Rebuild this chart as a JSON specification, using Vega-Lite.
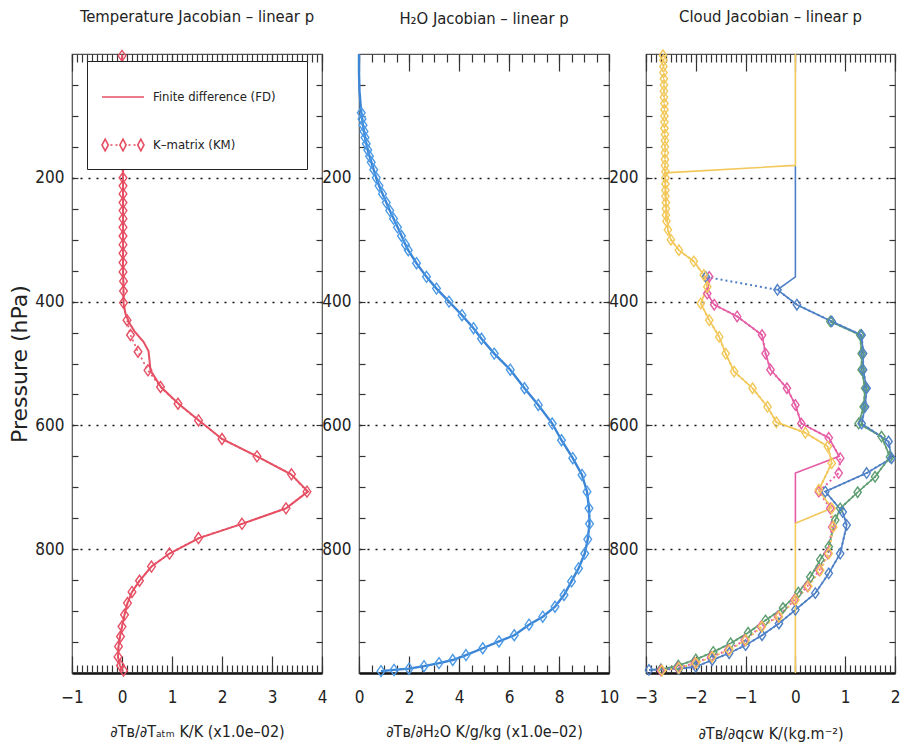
{
  "$schema": "https://vega.github.io/schema/vega-lite/v6.json",
  "background": "white",
  "padding": {"left": 8, "top": 8, "right": 8, "bottom": 4},
  "spacing": 37,
  "bounds": "flush",
  "config": {
    "font": "Liberation Sans Narrow, DejaVu Sans Condensed, Liberation Sans",
    "view": {"stroke": "#555", "strokeWidth": 1.2},
    "axis": {"labelFont": "Liberation Sans Narrow, DejaVu Sans Condensed, Liberation Sans", "labelFontSize": 17, "labelColor": "#222", "titleFont": "Liberation Sans Narrow, DejaVu Sans Condensed, Liberation Sans", "titleFontSize": 16, "titleFontWeight": "normal", "titleColor": "#222", "tickColor": "#333", "tickWidth": 1.2, "domain": false, "labelFlush": false, "labelOverlap": false, "grid": false},
    "title": {"font": "Liberation Sans Narrow, DejaVu Sans Condensed, Liberation Sans", "fontSize": 16.5, "fontWeight": "normal", "color": "#222", "offset": 22}
  },
  "datasets": {
    "leg": [{"m": "Finite difference (FD)", "v": 0, "p": 0}, {"m": "K–matrix (KM)", "v": 0, "p": 0}],
    "temp": [
      {"m":"FD","p":1,"v":0.0},{"m":"FD","p":50,"v":0.0},{"m":"FD","p":100,"v":0.01},{"m":"FD","p":150,"v":0.01},{"m":"FD","p":200,"v":0.02},{"m":"FD","p":250,"v":0.02},{"m":"FD","p":300,"v":0.02},{"m":"FD","p":350,"v":0.02},{"m":"FD","p":380,"v":0.03},{"m":"FD","p":402,"v":0.03},{"m":"FD","p":420,"v":0.07},{"m":"FD","p":435,"v":0.15},{"m":"FD","p":448,"v":0.25},{"m":"FD","p":465,"v":0.43},{"m":"FD","p":480,"v":0.53},{"m":"FD","p":495,"v":0.55},{"m":"FD","p":511,"v":0.57},{"m":"FD","p":538,"v":0.78},{"m":"FD","p":565,"v":1.13},{"m":"FD","p":592,"v":1.54},{"m":"FD","p":622,"v":2.0},{"m":"FD","p":650,"v":2.7},{"m":"FD","p":679,"v":3.38},{"m":"FD","p":707,"v":3.72},{"m":"FD","p":734,"v":3.28},{"m":"FD","p":759,"v":2.4},{"m":"FD","p":782,"v":1.54},{"m":"FD","p":807,"v":0.95},{"m":"FD","p":828,"v":0.59},{"m":"FD","p":851,"v":0.35},{"m":"FD","p":869,"v":0.2},{"m":"FD","p":887,"v":0.11},{"m":"FD","p":906,"v":0.05},{"m":"FD","p":925,"v":0.0},{"m":"FD","p":941,"v":-0.04},{"m":"FD","p":957,"v":-0.07},{"m":"FD","p":974,"v":-0.08},{"m":"FD","p":988,"v":-0.04},{"m":"FD","p":998,"v":0.02},
      {"m":"KM","p":3,"v":0.0},{"m":"KM","p":20,"v":0.0},{"m":"KM","p":40,"v":0.0},{"m":"KM","p":60,"v":0.01},{"m":"KM","p":80,"v":0.01},{"m":"KM","p":100,"v":0.01},{"m":"KM","p":120,"v":0.01},{"m":"KM","p":140,"v":0.01},{"m":"KM","p":160,"v":0.01},{"m":"KM","p":180,"v":0.02},{"m":"KM","p":200,"v":0.02},{"m":"KM","p":213,"v":0.02},{"m":"KM","p":226,"v":0.02},{"m":"KM","p":240,"v":0.02},{"m":"KM","p":253,"v":0.02},{"m":"KM","p":266,"v":0.02},{"m":"KM","p":280,"v":0.02},{"m":"KM","p":294,"v":0.02},{"m":"KM","p":308,"v":0.02},{"m":"KM","p":322,"v":0.02},{"m":"KM","p":337,"v":0.02},{"m":"KM","p":352,"v":0.02},{"m":"KM","p":367,"v":0.03},{"m":"KM","p":383,"v":0.03},{"m":"KM","p":402,"v":0.03},{"m":"KM","p":430,"v":0.1},{"m":"KM","p":454,"v":0.17},{"m":"KM","p":481,"v":0.32},{"m":"KM","p":511,"v":0.52},{"m":"KM","p":538,"v":0.77},{"m":"KM","p":565,"v":1.12},{"m":"KM","p":592,"v":1.53},{"m":"KM","p":622,"v":2.0},{"m":"KM","p":650,"v":2.7},{"m":"KM","p":679,"v":3.39},{"m":"KM","p":707,"v":3.7},{"m":"KM","p":734,"v":3.28},{"m":"KM","p":759,"v":2.4},{"m":"KM","p":782,"v":1.53},{"m":"KM","p":807,"v":0.95},{"m":"KM","p":828,"v":0.59},{"m":"KM","p":851,"v":0.35},{"m":"KM","p":869,"v":0.2},{"m":"KM","p":887,"v":0.11},{"m":"KM","p":906,"v":0.05},{"m":"KM","p":925,"v":0.0},{"m":"KM","p":941,"v":-0.03},{"m":"KM","p":957,"v":-0.07},{"m":"KM","p":974,"v":-0.08},{"m":"KM","p":988,"v":-0.03},{"m":"KM","p":996,"v":0.03}
    ],
    "h2o": [
      {"m":"FD","p":0,"v":0.0},{"m":"FD","p":30,"v":0.0},{"m":"FD","p":60,"v":0.02},{"m":"FD","p":90,"v":0.08},{"m":"FD","p":110,"v":0.14},{"m":"FD","p":130,"v":0.22},{"m":"FD","p":150,"v":0.32},{"m":"FD","p":165,"v":0.42},{"m":"FD","p":182,"v":0.55},{"m":"FD","p":204,"v":0.72},{"m":"FD","p":220,"v":0.88},{"m":"FD","p":236,"v":1.05},{"m":"FD","p":250,"v":1.2},{"m":"FD","p":263,"v":1.35},{"m":"FD","p":276,"v":1.5},{"m":"FD","p":289,"v":1.65},{"m":"FD","p":303,"v":1.8},{"m":"FD","p":317,"v":1.97},{"m":"FD","p":338,"v":2.3},{"m":"FD","p":360,"v":2.7},{"m":"FD","p":379,"v":3.1},{"m":"FD","p":400,"v":3.6},{"m":"FD","p":422,"v":4.12},{"m":"FD","p":443,"v":4.58},{"m":"FD","p":460,"v":4.9},{"m":"FD","p":484,"v":5.41},{"m":"FD","p":510,"v":6.05},{"m":"FD","p":540,"v":6.62},{"m":"FD","p":567,"v":7.17},{"m":"FD","p":597,"v":7.73},{"m":"FD","p":624,"v":8.1},{"m":"FD","p":653,"v":8.55},{"m":"FD","p":680,"v":8.92},{"m":"FD","p":707,"v":9.12},{"m":"FD","p":734,"v":9.2},{"m":"FD","p":759,"v":9.22},{"m":"FD","p":784,"v":9.15},{"m":"FD","p":807,"v":9.03},{"m":"FD","p":831,"v":8.78},{"m":"FD","p":852,"v":8.5},{"m":"FD","p":874,"v":8.2},{"m":"FD","p":893,"v":7.84},{"m":"FD","p":909,"v":7.35},{"m":"FD","p":922,"v":6.8},{"m":"FD","p":939,"v":6.21},{"m":"FD","p":949,"v":5.6},{"m":"FD","p":960,"v":4.95},{"m":"FD","p":971,"v":4.28},{"m":"FD","p":979,"v":3.75},{"m":"FD","p":984,"v":3.2},{"m":"FD","p":989,"v":2.6},{"m":"FD","p":993,"v":2.0},{"m":"FD","p":995,"v":1.4},{"m":"FD","p":997,"v":0.88},
      {"m":"KM","p":95,"v":0.09},{"m":"KM","p":105,"v":0.12},{"m":"KM","p":115,"v":0.16},{"m":"KM","p":125,"v":0.2},{"m":"KM","p":135,"v":0.24},{"m":"KM","p":145,"v":0.29},{"m":"KM","p":155,"v":0.35},{"m":"KM","p":165,"v":0.42},{"m":"KM","p":175,"v":0.49},{"m":"KM","p":187,"v":0.59},{"m":"KM","p":200,"v":0.69},{"m":"KM","p":213,"v":0.8},{"m":"KM","p":226,"v":0.94},{"m":"KM","p":240,"v":1.09},{"m":"KM","p":253,"v":1.23},{"m":"KM","p":266,"v":1.38},{"m":"KM","p":280,"v":1.54},{"m":"KM","p":294,"v":1.7},{"m":"KM","p":308,"v":1.86},{"m":"KM","p":317,"v":1.97},{"m":"KM","p":338,"v":2.3},{"m":"KM","p":360,"v":2.7},{"m":"KM","p":379,"v":3.1},{"m":"KM","p":400,"v":3.6},{"m":"KM","p":422,"v":4.12},{"m":"KM","p":443,"v":4.58},{"m":"KM","p":460,"v":4.9},{"m":"KM","p":484,"v":5.41},{"m":"KM","p":510,"v":6.05},{"m":"KM","p":540,"v":6.62},{"m":"KM","p":567,"v":7.17},{"m":"KM","p":597,"v":7.73},{"m":"KM","p":624,"v":8.1},{"m":"KM","p":653,"v":8.55},{"m":"KM","p":680,"v":8.92},{"m":"KM","p":707,"v":9.12},{"m":"KM","p":734,"v":9.2},{"m":"KM","p":759,"v":9.22},{"m":"KM","p":784,"v":9.15},{"m":"KM","p":807,"v":9.03},{"m":"KM","p":831,"v":8.78},{"m":"KM","p":852,"v":8.5},{"m":"KM","p":874,"v":8.2},{"m":"KM","p":893,"v":7.84},{"m":"KM","p":909,"v":7.35},{"m":"KM","p":922,"v":6.8},{"m":"KM","p":939,"v":6.21},{"m":"KM","p":949,"v":5.6},{"m":"KM","p":960,"v":4.95},{"m":"KM","p":971,"v":4.28},{"m":"KM","p":979,"v":3.75},{"m":"KM","p":984,"v":3.2},{"m":"KM","p":989,"v":2.6},{"m":"KM","p":993,"v":2.0},{"m":"KM","p":995,"v":1.4},{"m":"KM","p":997,"v":0.88}
    ],
    "cloud": [
      {"s":"G","m":"FD","p":432,"v":0.7},{"s":"G","m":"FD","p":454,"v":1.3},{"s":"G","m":"FD","p":484,"v":1.33},{"s":"G","m":"FD","p":510,"v":1.33},{"s":"G","m":"FD","p":540,"v":1.4},{"s":"G","m":"FD","p":570,"v":1.37},{"s":"G","m":"FD","p":597,"v":1.27},{"s":"G","m":"FD","p":618,"v":1.73},{"s":"G","m":"FD","p":651,"v":1.9},{"s":"G","m":"FD","p":683,"v":1.6},{"s":"G","m":"FD","p":708,"v":1.25},{"s":"G","m":"FD","p":734,"v":0.9},{"s":"G","m":"FD","p":753,"v":0.8},{"s":"G","m":"FD","p":796,"v":0.67},{"s":"G","m":"FD","p":817,"v":0.5},{"s":"G","m":"FD","p":845,"v":0.3},{"s":"G","m":"FD","p":870,"v":0.06},{"s":"G","m":"FD","p":895,"v":-0.25},{"s":"G","m":"FD","p":915,"v":-0.6},{"s":"G","m":"FD","p":935,"v":-0.95},{"s":"G","m":"FD","p":952,"v":-1.3},{"s":"G","m":"FD","p":966,"v":-1.65},{"s":"G","m":"FD","p":978,"v":-2.0},{"s":"G","m":"FD","p":988,"v":-2.35},{"s":"G","m":"FD","p":994,"v":-2.7},
      {"s":"G","m":"KM","p":432,"v":0.7},{"s":"G","m":"KM","p":454,"v":1.3},{"s":"G","m":"KM","p":484,"v":1.33},{"s":"G","m":"KM","p":510,"v":1.33},{"s":"G","m":"KM","p":540,"v":1.4},{"s":"G","m":"KM","p":570,"v":1.37},{"s":"G","m":"KM","p":597,"v":1.27},{"s":"G","m":"KM","p":618,"v":1.73},{"s":"G","m":"KM","p":651,"v":1.9},{"s":"G","m":"KM","p":683,"v":1.6},{"s":"G","m":"KM","p":708,"v":1.25},{"s":"G","m":"KM","p":734,"v":0.9},{"s":"G","m":"KM","p":753,"v":0.8},{"s":"G","m":"KM","p":796,"v":0.67},{"s":"G","m":"KM","p":817,"v":0.5},{"s":"G","m":"KM","p":845,"v":0.3},{"s":"G","m":"KM","p":870,"v":0.06},{"s":"G","m":"KM","p":895,"v":-0.25},{"s":"G","m":"KM","p":915,"v":-0.6},{"s":"G","m":"KM","p":935,"v":-0.95},{"s":"G","m":"KM","p":952,"v":-1.3},{"s":"G","m":"KM","p":966,"v":-1.65},{"s":"G","m":"KM","p":978,"v":-2.0},{"s":"G","m":"KM","p":988,"v":-2.35},{"s":"G","m":"KM","p":994,"v":-2.7},
      {"s":"P","m":"FD","p":360,"v":-1.73},{"s":"P","m":"FD","p":387,"v":-1.77},{"s":"P","m":"FD","p":405,"v":-1.63},{"s":"P","m":"FD","p":424,"v":-1.17},{"s":"P","m":"FD","p":454,"v":-0.67},{"s":"P","m":"FD","p":484,"v":-0.6},{"s":"P","m":"FD","p":510,"v":-0.5},{"s":"P","m":"FD","p":540,"v":-0.17},{"s":"P","m":"FD","p":567,"v":0.0},{"s":"P","m":"FD","p":597,"v":0.12},{"s":"P","m":"FD","p":620,"v":0.67},{"s":"P","m":"FD","p":650,"v":0.88},{"s":"P","m":"FD","p":677,"v":0.0},{"s":"P","m":"FD","p":758,"v":0.0},
      {"s":"P","m":"KM","p":360,"v":-1.73},{"s":"P","m":"KM","p":387,"v":-1.77},{"s":"P","m":"KM","p":405,"v":-1.63},{"s":"P","m":"KM","p":424,"v":-1.17},{"s":"P","m":"KM","p":454,"v":-0.67},{"s":"P","m":"KM","p":484,"v":-0.6},{"s":"P","m":"KM","p":510,"v":-0.5},{"s":"P","m":"KM","p":540,"v":-0.17},{"s":"P","m":"KM","p":567,"v":0.0},{"s":"P","m":"KM","p":597,"v":0.12},{"s":"P","m":"KM","p":620,"v":0.67},{"s":"P","m":"KM","p":653,"v":0.9},{"s":"P","m":"KM","p":677,"v":0.87},{"s":"P","m":"KM","p":707,"v":0.47},{"s":"P","m":"KM","p":734,"v":0.7},{"s":"P","m":"KM","p":764,"v":0.74},{"s":"P","m":"KM","p":807,"v":0.65},{"s":"P","m":"KM","p":834,"v":0.48},{"s":"P","m":"KM","p":860,"v":0.24},{"s":"P","m":"KM","p":882,"v":-0.02},{"s":"P","m":"KM","p":909,"v":-0.35},{"s":"P","m":"KM","p":925,"v":-0.69},{"s":"P","m":"KM","p":947,"v":-1.02},{"s":"P","m":"KM","p":963,"v":-1.35},{"s":"P","m":"KM","p":974,"v":-1.69},{"s":"P","m":"KM","p":984,"v":-2.02},{"s":"P","m":"KM","p":992,"v":-2.36},{"s":"P","m":"KM","p":996,"v":-2.7},
      {"s":"B","m":"FD","p":181,"v":0.0},{"s":"B","m":"FD","p":360,"v":0.0},{"s":"B","m":"FD","p":381,"v":-0.36},{"s":"B","m":"FD","p":405,"v":0.03},{"s":"B","m":"FD","p":432,"v":0.73},{"s":"B","m":"FD","p":454,"v":1.33},{"s":"B","m":"FD","p":484,"v":1.36},{"s":"B","m":"FD","p":510,"v":1.36},{"s":"B","m":"FD","p":540,"v":1.43},{"s":"B","m":"FD","p":570,"v":1.4},{"s":"B","m":"FD","p":597,"v":1.33},{"s":"B","m":"FD","p":626,"v":1.87},{"s":"B","m":"FD","p":653,"v":1.93},{"s":"B","m":"FD","p":677,"v":1.43},{"s":"B","m":"FD","p":707,"v":0.6},{"s":"B","m":"FD","p":740,"v":0.95},{"s":"B","m":"FD","p":761,"v":1.03},{"s":"B","m":"FD","p":807,"v":0.9},{"s":"B","m":"FD","p":839,"v":0.67},{"s":"B","m":"FD","p":871,"v":0.4},{"s":"B","m":"FD","p":898,"v":0.0},{"s":"B","m":"FD","p":920,"v":-0.33},{"s":"B","m":"FD","p":939,"v":-0.67},{"s":"B","m":"FD","p":955,"v":-1.0},{"s":"B","m":"FD","p":968,"v":-1.33},{"s":"B","m":"FD","p":979,"v":-1.67},{"s":"B","m":"FD","p":990,"v":-2.0},{"s":"B","m":"FD","p":993,"v":-2.34},{"s":"B","m":"FD","p":995,"v":-2.94},
      {"s":"B","m":"KM","p":360,"v":-1.8},{"s":"B","m":"KM","p":381,"v":-0.36},{"s":"B","m":"KM","p":405,"v":0.03},{"s":"B","m":"KM","p":432,"v":0.73},{"s":"B","m":"KM","p":454,"v":1.33},{"s":"B","m":"KM","p":484,"v":1.36},{"s":"B","m":"KM","p":510,"v":1.36},{"s":"B","m":"KM","p":540,"v":1.43},{"s":"B","m":"KM","p":570,"v":1.4},{"s":"B","m":"KM","p":597,"v":1.33},{"s":"B","m":"KM","p":626,"v":1.87},{"s":"B","m":"KM","p":653,"v":1.93},{"s":"B","m":"KM","p":677,"v":1.43},{"s":"B","m":"KM","p":707,"v":0.6},{"s":"B","m":"KM","p":740,"v":0.95},{"s":"B","m":"KM","p":761,"v":1.03},{"s":"B","m":"KM","p":807,"v":0.9},{"s":"B","m":"KM","p":839,"v":0.67},{"s":"B","m":"KM","p":871,"v":0.4},{"s":"B","m":"KM","p":898,"v":0.0},{"s":"B","m":"KM","p":920,"v":-0.33},{"s":"B","m":"KM","p":939,"v":-0.67},{"s":"B","m":"KM","p":955,"v":-1.0},{"s":"B","m":"KM","p":968,"v":-1.33},{"s":"B","m":"KM","p":979,"v":-1.67},{"s":"B","m":"KM","p":990,"v":-2.0},{"s":"B","m":"KM","p":993,"v":-2.34},{"s":"B","m":"KM","p":995,"v":-2.94},
      {"s":"Y","m":"FD","p":0,"v":0.0},{"s":"Y","m":"FD","p":180,"v":0.0},{"s":"Y","m":"FD","p":192,"v":-2.62},{"s":"Y","m":"FD","p":240,"v":-2.6},{"s":"Y","m":"FD","p":284,"v":-2.56},{"s":"Y","m":"FD","p":300,"v":-2.5},{"s":"Y","m":"FD","p":317,"v":-2.34},{"s":"Y","m":"FD","p":335,"v":-2.04},{"s":"Y","m":"FD","p":357,"v":-1.84},{"s":"Y","m":"FD","p":376,"v":-1.77},{"s":"Y","m":"FD","p":403,"v":-1.9},{"s":"Y","m":"FD","p":430,"v":-1.73},{"s":"Y","m":"FD","p":457,"v":-1.53},{"s":"Y","m":"FD","p":484,"v":-1.4},{"s":"Y","m":"FD","p":513,"v":-1.23},{"s":"Y","m":"FD","p":540,"v":-0.86},{"s":"Y","m":"FD","p":570,"v":-0.56},{"s":"Y","m":"FD","p":595,"v":-0.38},{"s":"Y","m":"FD","p":612,"v":0.2},{"s":"Y","m":"FD","p":634,"v":0.65},{"s":"Y","m":"FD","p":661,"v":0.73},{"s":"Y","m":"FD","p":704,"v":0.47},{"s":"Y","m":"FD","p":734,"v":0.72},{"s":"Y","m":"FD","p":758,"v":0.0},{"s":"Y","m":"FD","p":1000,"v":0.0},
      {"s":"Y","m":"KM","p":2,"v":-2.66},{"s":"Y","m":"KM","p":10,"v":-2.65},{"s":"Y","m":"KM","p":20,"v":-2.65},{"s":"Y","m":"KM","p":30,"v":-2.65},{"s":"Y","m":"KM","p":40,"v":-2.64},{"s":"Y","m":"KM","p":50,"v":-2.64},{"s":"Y","m":"KM","p":60,"v":-2.64},{"s":"Y","m":"KM","p":70,"v":-2.64},{"s":"Y","m":"KM","p":80,"v":-2.63},{"s":"Y","m":"KM","p":90,"v":-2.63},{"s":"Y","m":"KM","p":100,"v":-2.63},{"s":"Y","m":"KM","p":110,"v":-2.63},{"s":"Y","m":"KM","p":120,"v":-2.63},{"s":"Y","m":"KM","p":130,"v":-2.62},{"s":"Y","m":"KM","p":140,"v":-2.62},{"s":"Y","m":"KM","p":150,"v":-2.62},{"s":"Y","m":"KM","p":160,"v":-2.62},{"s":"Y","m":"KM","p":170,"v":-2.62},{"s":"Y","m":"KM","p":180,"v":-2.62},{"s":"Y","m":"KM","p":190,"v":-2.61},{"s":"Y","m":"KM","p":200,"v":-2.61},{"s":"Y","m":"KM","p":210,"v":-2.61},{"s":"Y","m":"KM","p":220,"v":-2.61},{"s":"Y","m":"KM","p":230,"v":-2.61},{"s":"Y","m":"KM","p":240,"v":-2.6},{"s":"Y","m":"KM","p":250,"v":-2.6},{"s":"Y","m":"KM","p":260,"v":-2.6},{"s":"Y","m":"KM","p":270,"v":-2.59},{"s":"Y","m":"KM","p":284,"v":-2.56},{"s":"Y","m":"KM","p":300,"v":-2.5},{"s":"Y","m":"KM","p":317,"v":-2.34},{"s":"Y","m":"KM","p":335,"v":-2.04},{"s":"Y","m":"KM","p":357,"v":-1.84},{"s":"Y","m":"KM","p":376,"v":-1.77},{"s":"Y","m":"KM","p":403,"v":-1.9},{"s":"Y","m":"KM","p":430,"v":-1.73},{"s":"Y","m":"KM","p":457,"v":-1.53},{"s":"Y","m":"KM","p":484,"v":-1.4},{"s":"Y","m":"KM","p":513,"v":-1.23},{"s":"Y","m":"KM","p":540,"v":-0.86},{"s":"Y","m":"KM","p":570,"v":-0.56},{"s":"Y","m":"KM","p":595,"v":-0.38},{"s":"Y","m":"KM","p":612,"v":0.2},{"s":"Y","m":"KM","p":634,"v":0.65},{"s":"Y","m":"KM","p":661,"v":0.73},{"s":"Y","m":"KM","p":704,"v":0.47},{"s":"Y","m":"KM","p":734,"v":0.73},{"s":"Y","m":"KM","p":764,"v":0.76},{"s":"Y","m":"KM","p":807,"v":0.67},{"s":"Y","m":"KM","p":834,"v":0.5},{"s":"Y","m":"KM","p":860,"v":0.26},{"s":"Y","m":"KM","p":882,"v":0.0},{"s":"Y","m":"KM","p":909,"v":-0.33},{"s":"Y","m":"KM","p":925,"v":-0.67},{"s":"Y","m":"KM","p":947,"v":-1.0},{"s":"Y","m":"KM","p":963,"v":-1.33},{"s":"Y","m":"KM","p":974,"v":-1.67},{"s":"Y","m":"KM","p":984,"v":-2.0},{"s":"Y","m":"KM","p":992,"v":-2.34},{"s":"Y","m":"KM","p":996,"v":-2.68}
    ]
  },
  "hconcat": [
    {
      "width": 250, "height": 619,
      "title": "Temperature Jacobian – linear p",
      "resolve": {"axis": {"x": "independent", "y": "independent"}},
      "layer": [
        {
          "data": {"name": "temp"},
          "transform": [{"filter": "datum.m === 'FD'"}],
          "mark": {"type": "line", "color": "#e65064", "strokeWidth": 2},
          "encoding": {
            "x": {"field": "v", "type": "quantitative", "scale": {"domain": [-1, 4], "nice": false, "zero": false},
              "axis": {"orient": "bottom", "title": "∂Tʙ/∂Tₐₜₘ K/K (x1.0e–02)", "format": ".0f", "values": [-1,0,1,2,3,4], "ticks": false,
                "domain": true, "domainColor": "#111", "domainWidth": 2.5, "labelPadding": 16, "titlePadding": 18}},
            "y": {"field": "p", "type": "quantitative", "scale": {"domain": [0, 1000], "reverse": true, "nice": false, "zero": false},
              "axis": {"orient": "left", "title": "Pressure (hPa)", "titleFont": "DejaVu Sans", "titleFontSize": 22, "titlePadding": 3,
                "values": [200,400,600,800], "ticks": false, "labelPadding": 8,
                "grid": true, "gridDash": [2, 6], "gridColor": "#111", "gridWidth": 1.6}},
            "order": {"field": "p", "type": "quantitative"}
          }
        },
        {
          "data": {"name": "temp"},
          "transform": [{"filter": "datum.m === 'KM'"}],
          "mark": {"type": "line", "color": "#e65064", "strokeWidth": 1.6, "strokeDash": [2, 3]},
          "encoding": {
            "x": {"field": "v", "type": "quantitative",
              "axis": {"orient": "bottom", "title": null, "labels": false, "ticks": true, "tickSize": 8, "offset": -8,
                "values": [-1,-0.9,-0.8,-0.7,-0.6,-0.5,-0.4,-0.3,-0.2,-0.1,0,0.1,0.2,0.3,0.4,0.5,0.6,0.7,0.8,0.9,1,1.1,1.2,1.3,1.4,1.5,1.6,1.7,1.8,1.9,2,2.1,2.2,2.3,2.4,2.5,2.6,2.7,2.8,2.9,3,3.1,3.2,3.3,3.4,3.5,3.6,3.7,3.8,3.9,4]}},
            "y": {"field": "p", "type": "quantitative",
              "axis": {"orient": "left", "title": null, "labels": false, "ticks": true, "tickSize": 6, "offset": -6,
                "values": [50,100,150,200,250,300,350,400,450,500,550,600,650,700,750,800,850,900,950]}},
            "order": {"field": "p", "type": "quantitative"}
          }
        },
        {
          "data": {"name": "temp"},
          "transform": [{"filter": "datum.m === 'KM'"}],
          "mark": {"type": "point", "shape": "M0,-1L0.7,0L0,1L-0.7,0Z", "size": 121, "filled": false, "color": "#e65064", "strokeWidth": 1.4, "opacity": 1},
          "encoding": {
            "x": {"field": "v", "type": "quantitative",
              "axis": {"orient": "top", "title": null, "labels": false, "ticks": true, "tickSize": 17, "offset": -17, "values": [-1,0,1,2,3,4]}},
            "y": {"field": "p", "type": "quantitative",
              "axis": {"orient": "right", "title": null, "labels": false, "ticks": true, "tickSize": 6, "offset": -6,
                "values": [50,100,150,200,250,300,350,400,450,500,550,600,650,700,750,800,850,900,950]}}
          }
        },
        {
          "data": {"name": "temp"},
          "transform": [{"filter": "datum.m === 'KM'"}],
          "mark": {"type": "point", "opacity": 0},
          "encoding": {
            "x": {"field": "v", "type": "quantitative",
              "axis": {"orient": "bottom", "title": null, "labels": false, "ticks": true, "tickSize": 17, "offset": -17, "values": [-1,0,1,2,3,4]}},
            "y": {"field": "p", "type": "quantitative", "axis": null}
          }
        },
        {
          "data": {"name": "leg"},
          "mark": {"type": "point", "opacity": 0, "filled": false, "color": "#e65064", "strokeWidth": 1.6},
          "encoding": {
            "x": {"field": "v", "type": "quantitative",
              "axis": {"orient": "top", "title": null, "labels": false, "ticks": true, "tickSize": 8, "offset": -8,
                "values": [-1,-0.9,-0.8,-0.7,-0.6,-0.5,-0.4,-0.3,-0.2,-0.1,0,0.1,0.2,0.3,0.4,0.5,0.6,0.7,0.8,0.9,1,1.1,1.2,1.3,1.4,1.5,1.6,1.7,1.8,1.9,2,2.1,2.2,2.3,2.4,2.5,2.6,2.7,2.8,2.9,3,3.1,3.2,3.3,3.4,3.5,3.6,3.7,3.8,3.9,4]}},
            "y": {"field": "p", "type": "quantitative", "axis": null},
            "shape": {"field": "m", "type": "nominal",
              "scale": {"domain": ["Finite difference (FD)", "K–matrix (KM)"],
                "range": ["M-1,0H1", "M-0.85,-0.28L-0.7,0L-0.85,0.28L-1,0Z M0,-0.28L0.15,0L0,0.28L-0.15,0Z M0.85,-0.28L1,0L0.85,0.28L0.7,0Z M-0.6,0H-0.5 M-0.36,0H-0.26 M0.26,0H0.36 M0.5,0H0.6"]},
              "legend": {"orient": "none", "legendX": 15, "legendY": 7, "title": null, "fillColor": "white", "strokeColor": "#222", "padding": 14,
                "symbolSize": 1764, "symbolStrokeWidth": 1.6, "symbolStrokeColor": "#e65064", "symbolFillColor": "transparent", "symbolOpacity": 1,
                "labelFont": "Liberation Sans Narrow, DejaVu Sans Condensed, Liberation Sans", "labelFontSize": 13, "labelColor": "#222", "labelOffset": 8, "rowPadding": 19,
                "labelExpr": "datum.label + '\u2800\u2800'"}}
          }
        }
      ]
    },
    {
      "width": 250, "height": 619,
      "title": "H₂O Jacobian – linear p",
      "resolve": {"axis": {"x": "independent", "y": "independent"}},
      "layer": [
        {
          "data": {"name": "h2o"},
          "transform": [{"filter": "datum.m === 'FD'"}],
          "mark": {"type": "line", "color": "#3d86d6", "strokeWidth": 2.4},
          "encoding": {
            "x": {"field": "v", "type": "quantitative", "scale": {"domain": [0, 10], "nice": false, "zero": false},
              "axis": {"orient": "bottom", "title": "∂Tʙ/∂H₂O K/g/kg (x1.0e–02)", "format": ".0f", "values": [0,2,4,6,8,10], "ticks": false,
                "domain": true, "domainColor": "#111", "domainWidth": 2.5, "labelPadding": 16, "titlePadding": 18}},
            "y": {"field": "p", "type": "quantitative", "scale": {"domain": [0, 1000], "reverse": true, "nice": false, "zero": false},
              "axis": {"orient": "left", "title": null, "values": [200,400,600,800], "ticks": false, "labelPadding": 8,
                "grid": true, "gridDash": [2, 6], "gridColor": "#111", "gridWidth": 1.6}},
            "order": {"field": "p", "type": "quantitative"}
          }
        },
        {
          "data": {"name": "h2o"},
          "transform": [{"filter": "datum.m === 'KM'"}],
          "mark": {"type": "line", "color": "#3d86d6", "strokeWidth": 1.4, "strokeDash": [2, 3]},
          "encoding": {
            "x": {"field": "v", "type": "quantitative",
              "axis": {"orient": "bottom", "title": null, "labels": false, "ticks": true, "tickSize": 8, "offset": -8,
                "values": [0,0.5,1,1.5,2,2.5,3,3.5,4,4.5,5,5.5,6,6.5,7,7.5,8,8.5,9,9.5,10]}},
            "y": {"field": "p", "type": "quantitative",
              "axis": {"orient": "left", "title": null, "labels": false, "ticks": true, "tickSize": 6, "offset": -6,
                "values": [50,100,150,200,250,300,350,400,450,500,550,600,650,700,750,800,850,900,950]}},
            "order": {"field": "p", "type": "quantitative"}
          }
        },
        {
          "data": {"name": "h2o"},
          "transform": [{"filter": "datum.m === 'KM'"}],
          "mark": {"type": "point", "shape": "M0,-1L0.7,0L0,1L-0.7,0Z", "size": 121, "filled": false, "color": "#4d9ae6", "strokeWidth": 1.4, "opacity": 1},
          "encoding": {
            "x": {"field": "v", "type": "quantitative",
              "axis": {"orient": "top", "title": null, "labels": false, "ticks": true, "tickSize": 17, "offset": -17, "values": [0,2,4,6,8,10]}},
            "y": {"field": "p", "type": "quantitative",
              "axis": {"orient": "right", "title": null, "labels": false, "ticks": true, "tickSize": 6, "offset": -6,
                "values": [50,100,150,200,250,300,350,400,450,500,550,600,650,700,750,800,850,900,950]}}
          }
        },
        {
          "data": {"name": "h2o"},
          "transform": [{"filter": "datum.m === 'KM'"}],
          "mark": {"type": "point", "opacity": 0},
          "encoding": {
            "x": {"field": "v", "type": "quantitative",
              "axis": {"orient": "bottom", "title": null, "labels": false, "ticks": true, "tickSize": 17, "offset": -17, "values": [0,2,4,6,8,10]}},
            "y": {"field": "p", "type": "quantitative", "axis": null}
          }
        },
        {
          "data": {"name": "h2o"},
          "transform": [{"filter": "datum.m === 'KM'"}],
          "mark": {"type": "point", "opacity": 0},
          "encoding": {
            "x": {"field": "v", "type": "quantitative",
              "axis": {"orient": "top", "title": null, "labels": false, "ticks": true, "tickSize": 8, "offset": -8,
                "values": [0,0.5,1,1.5,2,2.5,3,3.5,4,4.5,5,5.5,6,6.5,7,7.5,8,8.5,9,9.5,10]}},
            "y": {"field": "p", "type": "quantitative", "axis": null}
          }
        }
      ]
    },
    {
      "width": 249, "height": 619,
      "title": "Cloud Jacobian – linear p",
      "resolve": {"axis": {"x": "independent", "y": "independent"}},
      "layer": [
        {
          "data": {"name": "cloud"},
          "transform": [{"filter": "datum.m === 'FD'"}],
          "mark": {"type": "line", "strokeWidth": 1.6},
          "encoding": {
            "x": {"field": "v", "type": "quantitative", "scale": {"domain": [-3, 2], "nice": false, "zero": false},
              "axis": {"orient": "bottom", "title": "∂Tʙ/∂qᴄᴡ K/(kg.m⁻²)", "format": ".0f", "values": [-3,-2,-1,0,1,2], "ticks": false,
                "domain": true, "domainColor": "#111", "domainWidth": 2.5, "labelPadding": 16, "titlePadding": 20}},
            "y": {"field": "p", "type": "quantitative", "scale": {"domain": [0, 1000], "reverse": true, "nice": false, "zero": false},
              "axis": {"orient": "left", "title": null, "values": [200,400,600,800], "ticks": false, "labelPadding": 8,
                "grid": true, "gridDash": [2, 6], "gridColor": "#111", "gridWidth": 1.6}},
            "color": {"field": "s", "type": "nominal", "legend": null,
              "scale": {"domain": ["G", "P", "B", "Y"], "range": ["#5f9e72", "#e55ca5", "#4f80c6", "#f3c85a"]}},
            "order": {"field": "p", "type": "quantitative"}
          }
        },
        {
          "data": {"name": "cloud"},
          "transform": [{"filter": "datum.m === 'KM'"}],
          "mark": {"type": "line", "strokeWidth": 2, "strokeDash": [2, 3]},
          "encoding": {
            "x": {"field": "v", "type": "quantitative",
              "axis": {"orient": "bottom", "title": null, "labels": false, "ticks": true, "tickSize": 8, "offset": -8,
                "values": [-3,-2.9,-2.8,-2.7,-2.6,-2.5,-2.4,-2.3,-2.2,-2.1,-2,-1.9,-1.8,-1.7,-1.6,-1.5,-1.4,-1.3,-1.2,-1.1,-1,-0.9,-0.8,-0.7,-0.6,-0.5,-0.4,-0.3,-0.2,-0.1,0,0.1,0.2,0.3,0.4,0.5,0.6,0.7,0.8,0.9,1,1.1,1.2,1.3,1.4,1.5,1.6,1.7,1.8,1.9,2]}},
            "y": {"field": "p", "type": "quantitative",
              "axis": {"orient": "left", "title": null, "labels": false, "ticks": true, "tickSize": 6, "offset": -6,
                "values": [50,100,150,200,250,300,350,400,450,500,550,600,650,700,750,800,850,900,950]}},
            "color": {"field": "s", "type": "nominal", "legend": null},
            "order": {"field": "p", "type": "quantitative"}
          }
        },
        {
          "data": {"name": "cloud"},
          "transform": [{"filter": "datum.m === 'KM'"}],
          "mark": {"type": "point", "shape": "M0,-1L0.7,0L0,1L-0.7,0Z", "size": 110, "filled": false, "strokeWidth": 1.4, "opacity": 1},
          "encoding": {
            "x": {"field": "v", "type": "quantitative",
              "axis": {"orient": "top", "title": null, "labels": false, "ticks": true, "tickSize": 17, "offset": -17, "values": [-3,-2,-1,0,1,2]}},
            "y": {"field": "p", "type": "quantitative",
              "axis": {"orient": "right", "title": null, "labels": false, "ticks": true, "tickSize": 6, "offset": -6,
                "values": [50,100,150,200,250,300,350,400,450,500,550,600,650,700,750,800,850,900,950]}},
            "color": {"field": "s", "type": "nominal", "legend": null}
          }
        },
        {
          "data": {"name": "cloud"},
          "transform": [{"filter": "datum.m === 'KM'"}],
          "mark": {"type": "point", "opacity": 0},
          "encoding": {
            "x": {"field": "v", "type": "quantitative",
              "axis": {"orient": "bottom", "title": null, "labels": false, "ticks": true, "tickSize": 17, "offset": -17, "values": [-3,-2,-1,0,1,2]}},
            "y": {"field": "p", "type": "quantitative", "axis": null}
          }
        },
        {
          "data": {"name": "cloud"},
          "transform": [{"filter": "datum.m === 'KM'"}],
          "mark": {"type": "point", "opacity": 0},
          "encoding": {
            "x": {"field": "v", "type": "quantitative",
              "axis": {"orient": "top", "title": null, "labels": false, "ticks": true, "tickSize": 8, "offset": -8,
                "values": [-3,-2.9,-2.8,-2.7,-2.6,-2.5,-2.4,-2.3,-2.2,-2.1,-2,-1.9,-1.8,-1.7,-1.6,-1.5,-1.4,-1.3,-1.2,-1.1,-1,-0.9,-0.8,-0.7,-0.6,-0.5,-0.4,-0.3,-0.2,-0.1,0,0.1,0.2,0.3,0.4,0.5,0.6,0.7,0.8,0.9,1,1.1,1.2,1.3,1.4,1.5,1.6,1.7,1.8,1.9,2]}},
            "y": {"field": "p", "type": "quantitative", "axis": null}
          }
        }
      ]
    }
  ]
}
